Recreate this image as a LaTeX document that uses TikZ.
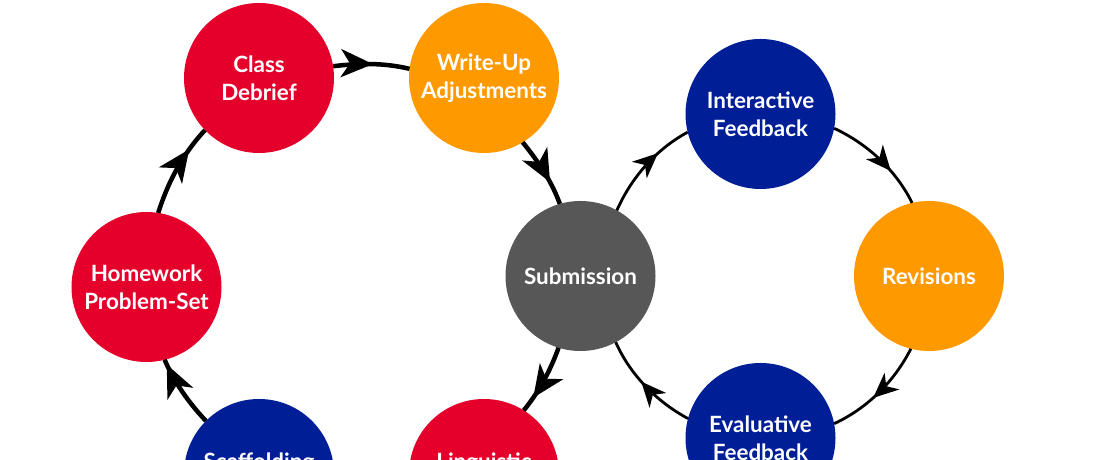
\documentclass[tikz,border=0pt]{standalone}
\usepackage{fontspec}
\setmainfont{Lato}
\usetikzlibrary{arrows.meta,decorations.markings}
\definecolor{cred}{HTML}{E4002B}
\definecolor{corange}{HTML}{FF9900}
\definecolor{cblue}{HTML}{001E96}
\definecolor{cgray}{HTML}{575757}
\tikzset{
  bub/.style={circle, minimum size=150bp, inner sep=0pt, outer sep=0pt, text=white,
    font=\fontsize{22.5}{28}\selectfont\bfseries, align=center},
  lbl/.style={inner sep=0pt, text=white, font=\fontsize{22.5}{28}\selectfont\bfseries},
  bigarr/.style={line width=4.5bp, black,
    decoration={markings, mark=at position #1 with {\arrow{Stealth[length=32bp,width=28bp,inset=9bp]}}},
    postaction={decorate}},
  smallarr/.style={line width=2.8bp, black,
    decoration={markings, mark=at position #1 with {\arrow{Stealth[length=25bp,width=22bp,inset=7.5bp]}}},
    postaction={decorate}}
}
\begin{document}
\begin{tikzpicture}[x=1bp,y=1bp]
\useasboundingbox (0,0) rectangle (1100,460);
\clip (0,0) rectangle (1100,460);
\fill[white] (0,0) rectangle (1100,460);
% left loop nodes
\node[bub, fill=cred] (CD) at (259,382) {Class\\Debrief};
\node[bub, fill=corange] (WU) at (484,382) {Write-Up\\Adjustments};
\node[bub, fill=cred] (HW) at (146.5,173) {Homework\\Problem-Set};
\node[bub, fill=cgray] (SUB) at (580.5,184) {Submission};
\node[bub, fill=cblue] (SC) at (259,-14) {};
\node[bub, fill=cred] (LI) at (484,-14) {};
\node[lbl] (SCt) at (259,-3) {Scaffolding};
\node[lbl] (LIt) at (484,-3) {Linguistic};
% right loop nodes
\node[bub, fill=cblue] (IF) at (760.5,346) {Interactive\\Feedback};
\node[bub, fill=corange] (RV) at (929,184) {Revisions};
\node[bub, fill=cblue] (EV) at (760.5,22) {Evaluative\\Feedback};
% left loop connectors
\draw[bigarr=0.74] (HW.81.83) to[out=72.66,in=226.64,looseness=0.86] (CD.224.36);
\draw[bigarr=0.52] (CD.9.47) to[out=7.2,in=166.37,looseness=0.86] (WU.173.86);
\draw[bigarr=0.67] (WU.301.83) to[out=-50.69,in=109.8,looseness=0.86] (SUB.106.69);
\draw[bigarr=0.78] (SUB.253.31) to[out=-109.8,in=50.69,looseness=0.86] (LI.58.17);
\draw[bigarr=0.93] (SC.135.64) to[out=133.36,in=-66.74,looseness=0.86] (HW.284.08);
% right loop connectors
\draw[smallarr=0.66] (SUB.61.70) to[out=66.29,in=208.41,looseness=0.87] (IF.194.0);
\draw[smallarr=0.65] (IF.349.42) to[out=-25.01,in=116.37,looseness=0.87] (RV.103.62);
\draw[smallarr=0.57] (RV.256.33) to[out=-116.72,in=24.95,looseness=0.87] (EV.11.29);
\draw[smallarr=0.56] (EV.165.3) to[out=151.67,in=-65.98,looseness=0.87] (SUB.298.61);
\end{tikzpicture}
\end{document}
